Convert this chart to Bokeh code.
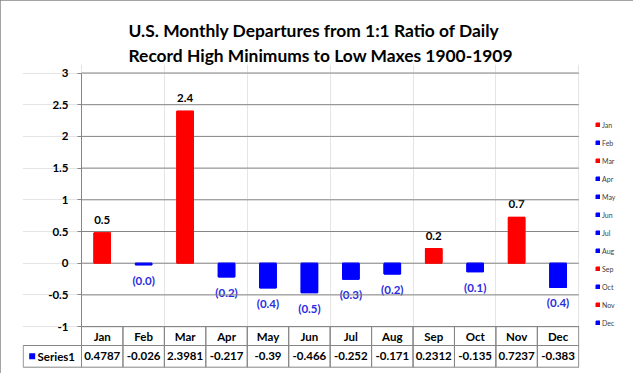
from bokeh.plotting import figure
from bokeh.models import (ColumnDataSource, Range1d, FixedTicker, LinearAxis,
                          Legend, LegendItem, NumeralTickFormatter)
from bokeh.embed import file_html
from bokeh.resources import INLINE
from bokeh.core.properties import value

# ---------------- data ----------------
title_text = ("U.S. Monthly Departures from 1:1 Ratio of Daily\n"
              "Record High Minimums to Low Maxes 1900-1909")
months = ["Jan", "Feb", "Mar", "Apr", "May", "Jun",
          "Jul", "Aug", "Sep", "Oct", "Nov", "Dec"]
values = [0.4787, -0.026, 2.3981, -0.217, -0.39, -0.466,
          -0.252, -0.171, 0.2312, -0.135, 0.7237, -0.383]
table_labels = ["0.4787", "-0.026", "2.3981", "-0.217", "-0.39", "-0.466",
                "-0.252", "-0.171", "0.2312", "-0.135", "0.7237", "-0.383"]
series_name = "Series1"
y_ticks = [-1, -0.5, 0, 0.5, 1, 1.5, 2, 2.5, 3]

# ---------------- style / layout constants (pixels) ----------------
FONT = "Lato"
RED = "#FF0000"
BLUE = "#0000FF"
GRID = "#868686"
LBL = "11.5px"

W, H = 632, 373
AX = 81.0            # pixel of the value axis (x = 0)
CAT = 41.44          # pixels per category
FL, FR = 22, 579     # frame left / right
Y3, PX_Y = 72.5, 63.4    # pixel of y=3, pixels per unit
FT, FB = 64, 368     # frame top / bottom
TBL_L = 22.7         # table left border pixel
HDR_B = 345.0        # header row bottom pixel
TBL_B = 366.7        # table bottom pixel


def xd(px):
    return (px - AX) / CAT


def yd(py):
    return 3 - (py - Y3) / PX_Y


n = len(months)
xc = [i + 0.5 for i in range(n)]
colors = [RED if v > 0 else BLUE for v in values]
src = ColumnDataSource(dict(x=xc, month=months, value=values, color=colors))

p = figure(frame_width=FR - FL, frame_height=FB - FT,
           x_range=Range1d(xd(FL), xd(FR)), y_range=Range1d(yd(FB), yd(FT)),
           x_axis_location=None, y_axis_location=None,
           output_backend="svg", toolbar_location=None,
           min_border_left=FL, min_border_right=W - FR,
           min_border_top=FT, min_border_bottom=H - FB,
           styles={"outline": "1px solid #868686", "outline-offset": "-1px"})
p.outline_line_color = None

yaxis = LinearAxis(ticker=FixedTicker(ticks=y_ticks, minor_ticks=[]),
                   formatter=NumeralTickFormatter(format="0.[0]"),
                   fixed_location=0, bounds=(-1, 3),
                   axis_line_color=GRID, major_tick_line_color=GRID,
                   major_tick_out=4, major_tick_in=0, minor_tick_out=0,
                   major_label_standoff=9, major_label_text_font=FONT,
                   major_label_text_font_style="bold",
                   major_label_text_font_size=LBL,
                   major_label_text_color="black")
p.add_layout(yaxis, "left")

p.title.text = title_text
p.title.align = "left"
p.title.offset = 106
p.title.text_font = FONT
p.title.text_font_size = "17.4px"
p.title.text_font_style = "bold"
p.title.text_color = "black"
p.title.text_line_height = 1.23
p.title.standoff = -4

bars = p.vbar(x="x", top="value", width=0.4, color="color", source=src)

pos_i = [i for i, v in enumerate(values) if v > 0]
neg_i = [i for i, v in enumerate(values) if v <= 0]
pos_src = ColumnDataSource(dict(x=[xc[i] for i in pos_i], value=[values[i] for i in pos_i],
                                lab=[f"{values[i]:.1f}" for i in pos_i]))
neg_src = ColumnDataSource(dict(x=[xc[i] for i in neg_i], value=[values[i] for i in neg_i],
                                lab=[f"({abs(values[i]):.1f})" for i in neg_i]))
p.text(x="x", y="value", text="lab", source=pos_src, text_align="center",
       text_baseline="bottom", y_offset=-9, text_font=value(FONT),
       text_font_style="bold", text_font_size=LBL, text_color="black")
p.text(x="x", y="value", text="lab", source=neg_src, text_align="center",
       text_baseline="top", y_offset=9, text_font=value(FONT),
       text_font_style="bold", text_font_size=LBL, text_color="#2B2BE0")

legend = Legend(items=[LegendItem(label=m, renderers=[bars], index=i)
                       for i, m in enumerate(months)],
                location=(16, 41), orientation="vertical",
                glyph_width=5, glyph_height=5, label_height=9, spacing=9,
                padding=0, margin=0, label_standoff=2,
                label_text_font=FONT, label_text_font_size="7px",
                label_text_color="#404040",
                border_line_color=None, background_fill_alpha=0)
p.add_layout(legend, "right")

# ---------------- data table ----------------
y_top, y_mid, y_bot = -1, yd(HDR_B), yd(TBL_B)
x_tl = xd(TBL_L)
tsrc = ColumnDataSource(dict(x=xc, m=months, lab=table_labels))
p.rect(x="x", y=(y_top + y_mid) / 2, width=1, height=y_top - y_mid, source=tsrc,
       fill_color=None, line_color=GRID)
p.rect(x="x", y=(y_mid + y_bot) / 2, width=1, height=y_mid - y_bot, source=tsrc,
       fill_color=None, line_color=GRID)
p.rect(x=[x_tl / 2], y=[(y_mid + y_bot) / 2], width=[-x_tl], height=[y_mid - y_bot],
       fill_color=None, line_color=GRID)

# horizontal gridlines at the axis ticks, over the category area
grid_src = ColumnDataSource(dict(y=y_ticks, x0=[0] * len(y_ticks), x1=[n] * len(y_ticks)))
p.segment(x0="x0", x1="x1", y0="y", y1="y", source=grid_src,
          line_color=GRID, line_width=1)
# bars again on top so the gridlines stay behind them
p.vbar(x="x", top="value", width=0.4, color="color", source=src)

p.text(x="x", y=(y_top + y_mid) / 2, text="m", source=tsrc, text_align="center",
       text_baseline="middle", text_font=value(FONT), text_font_style="bold",
       text_font_size=LBL, text_color="black")
p.text(x="x", y=(y_mid + y_bot) / 2, text="lab", source=tsrc, text_align="center",
       text_baseline="middle", text_font=value(FONT), text_font_style="bold",
       text_font_size=LBL, text_color="black")
p.scatter(x=[xd(31.7)], y=[(y_mid + y_bot) / 2], marker="square", size=6,
          fill_color=BLUE, line_color=None)
p.text(x=[xd(37)], y=[(y_mid + y_bot) / 2], text=[series_name], text_align="left",
       text_baseline="middle", text_font=value(FONT), text_font_style="bold",
       text_font_size=LBL, text_color="black")

open("out.html", "w").write(file_html(p, INLINE))
